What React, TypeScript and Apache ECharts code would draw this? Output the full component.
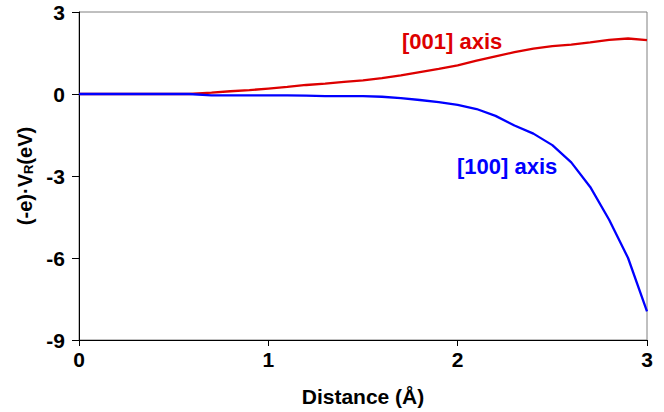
import React, { useEffect, useRef } from "react";
import * as echarts from "echarts";

const xValues = [0, 0.2, 0.4, 0.58, 0.7, 0.8, 0.9, 1.0, 1.1, 1.2, 1.3, 1.4, 1.5, 1.6, 1.7, 1.8, 1.9, 2.0, 2.1, 2.2, 2.3, 2.4, 2.5, 2.6, 2.7, 2.8, 2.9, 3.0];
const axis001 = [0, 0, 0, 0, 0.05, 0.1, 0.14, 0.2, 0.26, 0.33, 0.38, 0.44, 0.5, 0.58, 0.68, 0.8, 0.92, 1.05, 1.22, 1.38, 1.53, 1.66, 1.75, 1.81, 1.89, 1.98, 2.03, 1.97];
const axis100 = [0, 0, 0, 0, -0.05, -0.05, -0.05, -0.05, -0.05, -0.06, -0.08, -0.08, -0.08, -0.1, -0.15, -0.22, -0.3, -0.4, -0.55, -0.8, -1.15, -1.45, -1.87, -2.5, -3.4, -4.6, -6.0, -7.95];
const yTicks = { min: -9, max: 3, interval: 3 };
const xTicks = { min: 0, max: 3, interval: 1 };

const FONT = "'Liberation Sans', Arial, sans-serif";

export default function App() {
  const ref = useRef<HTMLDivElement>(null);
  useEffect(() => {
    if (!ref.current) return;
    const chart = echarts.init(ref.current, null, { renderer: "svg" });
    chart.setOption({
      animation: false,
      backgroundColor: "#ffffff",
      grid: { left: 79, top: 12, right: 17, bottom: 72, show: true, borderColor: "#808080", borderWidth: 1 },
      xAxis: {
        type: "value",
        min: xTicks.min,
        max: xTicks.max,
        interval: xTicks.interval,
        name: "Distance (Å)",
        nameLocation: "middle",
        nameGap: 46,
        nameTextStyle: { fontFamily: FONT, fontWeight: "bold", fontSize: 21, color: "#000" },
        axisLine: { onZero: false, lineStyle: { color: "#000", width: 1 } },
        axisTick: { show: true, length: 6, lineStyle: { color: "#000" } },
        axisLabel: { fontFamily: FONT, fontWeight: "bold", fontSize: 21, color: "#000", margin: 9 },
        splitLine: { show: false },
      },
      yAxis: {
        type: "value",
        min: yTicks.min,
        max: yTicks.max,
        interval: yTicks.interval,
        name: "(-e)·V{sub|R}(eV)",
        nameLocation: "middle",
        nameRotate: 90,
        nameGap: 43,
        nameTextStyle: {
          fontFamily: FONT,
          fontWeight: "bold",
          fontSize: 20,
          color: "#000",
          rich: {
            sub: { fontFamily: FONT, fontWeight: "bold", fontSize: 13, color: "#000", padding: [7, 0, 0, 0] },
          },
        },
        axisLine: { show: true, onZero: false, lineStyle: { color: "#000", width: 1 } },
        axisTick: { show: true, length: 7, lineStyle: { color: "#000" } },
        axisLabel: { fontFamily: FONT, fontWeight: "bold", fontSize: 21, color: "#000", margin: 14 },
        splitLine: { show: false },
      },
      series: [
        {
          name: "[001] axis",
          type: "line",
          data: xValues.map((x, i) => [x, axis001[i]]),
          showSymbol: false,
          lineStyle: { color: "#dd0000", width: 2.3 },
          z: 2,
        },
        {
          name: "[100] axis",
          type: "line",
          data: xValues.map((x, i) => [x, axis100[i]]),
          showSymbol: false,
          lineStyle: { color: "#0000ff", width: 2.3 },
          z: 3,
        },
      ],
      graphic: [
        {
          type: "text",
          left: 402,
          top: 30,
          style: { text: "[001] axis", fill: "#dd0000", font: `bold 22px ${FONT}` },
        },
        {
          type: "text",
          left: 457,
          top: 155,
          style: { text: "[100] axis", fill: "#0000ff", font: `bold 22px ${FONT}` },
        },
      ],
    });
    return () => chart.dispose();
  }, []);
  return <div ref={ref} style={{ position: "fixed", left: 0, top: 0, width: 664, height: 412 }} />;
}
